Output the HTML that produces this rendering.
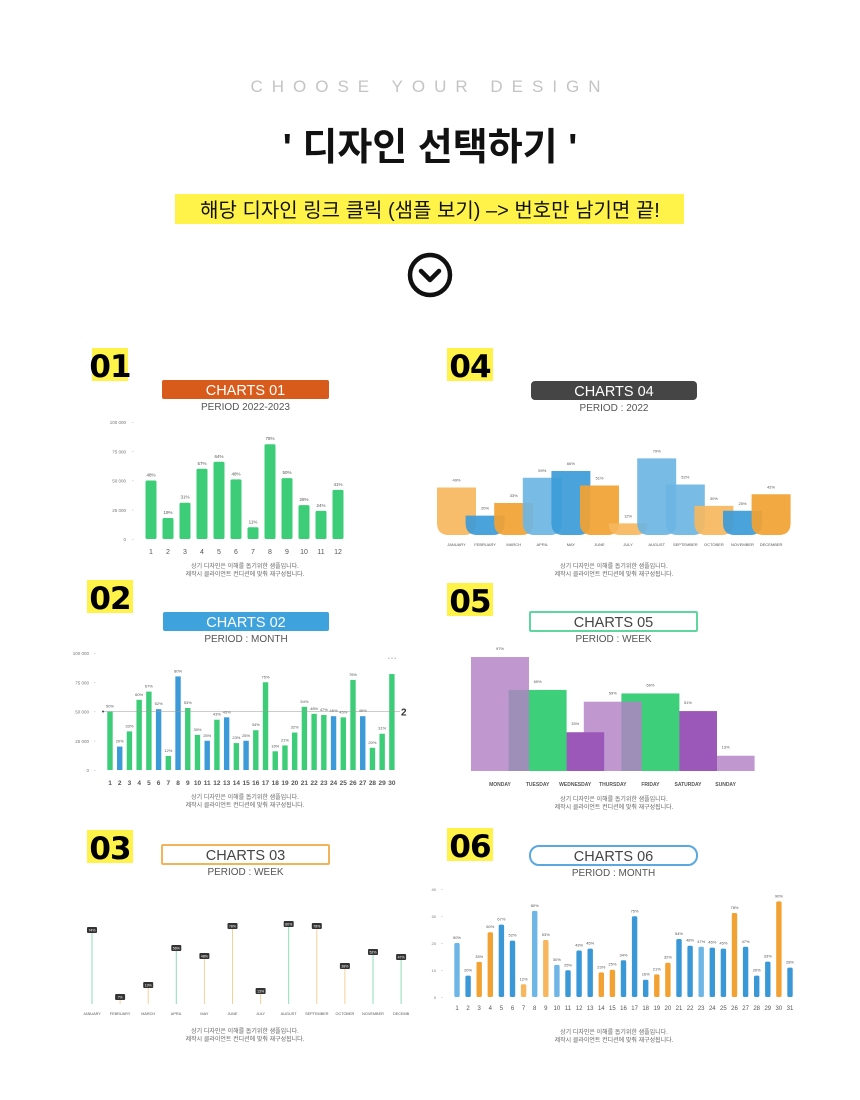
<!DOCTYPE html>
<html><head><meta charset="utf-8">
<style>
html,body{margin:0;padding:0;background:#fff;}
svg{display:block;}
text{font-family:"Liberation Sans","Noto Sans CJK KR",sans-serif;}
.kr{font-family:"Liberation Sans","Noto Sans CJK KR",sans-serif;}
.num{font-family:"DejaVu Sans","Liberation Sans",sans-serif;font-weight:bold;}
</style></head>
<body>
<svg id="page" width="860" height="1100" viewBox="0 0 860 1100" xmlns="http://www.w3.org/2000/svg">
<rect width="860" height="1100" fill="#fff"/>
<text x="430" y="92" text-anchor="middle" font-size="17" fill="#c4c4c4" letter-spacing="9">CHOOSE YOUR DESIGN</text>
<text x="430" y="160" text-anchor="middle" font-size="38" font-weight="bold" fill="#111" class="kr">' 디자인 선택하기 '</text>
<rect x="175" y="194" width="509" height="30" fill="#fff34a"/>
<text x="430" y="217" text-anchor="middle" font-size="20" fill="#111" class="kr">해당 디자인 링크 클릭 (샘플 보기) –&gt; 번호만 남기면 끝!</text>
<g>
<circle cx="430" cy="275" r="20" fill="none" stroke="#111" stroke-width="4.5"/>
<polyline points="421,271 430,280 439,271" fill="none" stroke="#111" stroke-width="4.5" stroke-linecap="round" stroke-linejoin="round"/>
</g>
<g id="charts"></g>
</svg>
<script>
const NS='http://www.w3.org/2000/svg';
const root=document.getElementById('charts');
function mk(parent,tag,attrs,name,txt){
  const el=document.createElementNS(NS,tag);
  for(const k in attrs) el.setAttribute(k,attrs[k]);
  
  
  if(txt!==undefined) el.textContent=txt;
  parent.appendChild(el);
  return el;
}
const FOOT1='상기 디자인은 이해를 돕기위한 샘플입니다.';
const FOOT2='제작시 클라이언트 컨디션에 맞춰 재구성됩니다.';
function header(g,num,bx,by,tx,ty,tw,style,title,sub){
  mk(g,'rect',{x:bx,y:by,width:num==='01'?36:46,height:33,fill:'#fff34a'},'number-badge');
  mk(g,'text',{x:bx+(num==='01'?18:23),y:by+29,'text-anchor':'middle','font-size':31,fill:'#000',class:'num','letter-spacing':'-1'},'number-label',num);
  let fill='none',stroke='none',col='#444',rx=2;
  if(style.fill){fill=style.fill;col='#fff';}
  if(style.stroke){stroke=style.stroke;}
  if(style.rx) rx=style.rx;
  mk(g,'rect',{x:tx,y:ty,width:tw,height:19,fill:fill,stroke:stroke,'stroke-width':2,rx:rx},'title-bar');
  mk(g,'text',{x:tx+tw/2,y:ty+15,'text-anchor':'middle','font-size':14.5,fill:col},'chart-title',title);
  mk(g,'text',{x:tx+tw/2,y:ty+30,'text-anchor':'middle','font-size':10,fill:'#555'},'chart-period',sub);
}
function foot(g,cx,y){
  mk(g,'text',{x:cx,y:y,'text-anchor':'middle','font-size':6,fill:'#666',class:'kr'},'footnote-line-1',FOOT1);
  mk(g,'text',{x:cx,y:y+8,'text-anchor':'middle','font-size':6,fill:'#666',class:'kr'},'footnote-line-2',FOOT2);
}

/* ===== CHART 01 ===== */
const c1Cats=['1','2','3','4','5','6','7','8','9','10','11','12'];
const c1Vals=[50,18,31,60,66,51,10,81,52,29,24,42];
const c1Labels=['48%','19%','31%','57%','64%','48%','11%','78%','50%','28%','24%','41%'];
const c1Ticks=[0,25,50,75,100];
const c1TickLabels=['0','25 000','50 000','75 000','100 000'];
/* ===== CHART 04 ===== */
const c4Cats=['JANUARY','FEBRUARY','MARCH','APRIL','MAY','JUNE','JULY','AUGUST','SEPTEMBER','OCTOBER','NOVEMBER','DECEMBER'];
const c4Vals=[49,20,33,59,66,51,12,79,52,30,25,42];
const c4Labels=['49%','20%','33%','59%','66%','51%','12%','79%','52%','30%','25%','42%'];
const c4Colors=['#f6b75e','#3c9bd8','#f2a232','#6cb5e3','#3c9bd8','#f2a232','#f6b75e','#6cb5e3','#6cb5e3','#f6b75e','#3c9bd8','#f2a232'];
/* ===== CHART 02 ===== */
const c2Cats=[];for(let i=1;i<=30;i++)c2Cats.push(String(i));
const c2Vals=[50,20,33,60,67,52,12,80,53,30,25,43,45,23,25,34,75,16,21,32,54,48,47,46,45,77,46,19,31,82];
const c2Labels=['50%','20%','33%','60%','67%','52%','12%','80%','53%','30%','25%','43%','45%','23%','25%','34%','75%','16%','21%','32%','54%','48%','47%','46%','45%','76%','46%','20%','31%',''];
const c2Blue=[2,6,8,11,13,15,24,27];
const c2Ticks=[0,25,50,75,100];
const c2TickLabels=['0','25 000','50 000','75 000','100 000'];
const c2Ref=50;
/* ===== CHART 05 ===== */
const c5Cats=['MONDAY','TUESDAY','WEDNESDAY','THURSDAY','FRIDAY','SATURDAY','SUNDAY'];
const c5Vals=[97,69,33,59,66,51,13];
const c5Labels=['97%','69%','33%','59%','66%','51%','13%'];
const c5Colors=['#b380c6','#3ecf7a','#9b58b8','#b380c6','#3ecf7a','#9b58b8','#b380c6'];
const c5Light=[true,false,false,true,false,false,true];
/* ===== CHART 03 ===== */
const c3Cats=['JANUARY','FEBRUARY','MARCH','APRIL','MAY','JUNE','JULY','AUGUST','SEPTEMBER','OCTOBER','NOVEMBER','DECEMB'];
const c3Vals=[74,7,19,56,48,78,13,80,78,38,52,47];
const c3Labels=['74%','7%','19%','56%','48%','78%','13%','80%','78%','38%','52%','47%'];
const c3Colors=['#8fdcb5','#f5cf9a','#f5cf9a','#8fdcb5','#f5cf9a','#f5cf9a','#f5cf9a','#8fdcb5','#f5cf9a','#f5cf9a','#8fdcb5','#8fdcb5'];
/* ===== CHART 06 ===== */
const c6Cats=[];for(let i=1;i<=31;i++)c6Cats.push(String(i));
const c6Vals=[20,7.9,13,24,26.8,20.9,4.7,31.9,21.1,11.9,9.9,17.2,17.9,9.1,10.1,13.6,29.9,6.4,8.4,12.7,21.5,19,18.6,18.3,17.9,31.1,18.6,7.9,13.1,35.4,10.9];
const c6Labels=['50%','20%','33%','60%','67%','52%','12%','80%','53%','30%','25%','43%','45%','23%','25%','34%','75%','16%','21%','32%','54%','48%','47%','46%','45%','78%','47%','20%','33%','90%','28%'];
const c6Kind=['lb','b','o','o','b','b','lo','lb','lo','lb','b','b','b','o','o','b','b','b','o','o','b','b','lb','b','b','o','b','b','b','o','b'];
const c6Ticks=[0,10,20,30,40];
const c6TickLabels=['0','10','20','30','40'];

/* draw chart 01 */
(function(){
  const g=mk(root,'g',{},'chart-01');
  header(g,'01',92,348,162,380,167,{fill:'#d95b1b'},'CHARTS 01','PERIOD 2022-2023');
  const y=v=>539-v*1.17, x=i=>151+i*17;
  c1Ticks.forEach((t,i)=>{
    mk(g,'text',{x:126,y:y(t)+2,'text-anchor':'end','font-size':4.5,fill:'#777'},'y-tick-label',c1TickLabels[i]);
    mk(g,'rect',{x:132,y:y(t),width:1.5,height:0.6,fill:'#bbb'},'y-tick-mark');
  });
  c1Vals.forEach((v,i)=>{
    mk(g,'rect',{x:x(i)-5.5,y:y(v),width:11,height:539-y(v),rx:1.5,fill:'#3dcd78'},'bar-'+c1Cats[i]);
    mk(g,'text',{x:x(i),y:y(v)-4,'text-anchor':'middle','font-size':4.5,fill:'#555'},'value-label',c1Labels[i]);
    mk(g,'text',{x:x(i),y:554,'text-anchor':'middle','font-size':7,fill:'#555'},'x-tick-label',c1Cats[i]);
  });
  foot(g,245,568);
})();

/* draw chart 04 */
(function(){
  const g=mk(root,'g',{},'chart-04');
  header(g,'04',447,348,531,381,166,{fill:'#454545',rx:4},'CHARTS 04','PERIOD : 2022');
  const base=535, y=v=>base-v*0.97, x=i=>437+i*28.6, w=39;
  c4Vals.forEach((v,i)=>{
    const h=base-y(v), r=Math.min(12,h);
    const x0=x(i), y0=y(v);
    const d='M'+x0+','+y0+' H'+(x0+w)+' V'+(base-r)+' Q'+(x0+w)+','+base+' '+(x0+w-r)+','+base+' H'+(x0+r)+' Q'+x0+','+base+' '+x0+','+(base-r)+' Z';
    mk(g,'path',{d:d,fill:c4Colors[i],opacity:0.92},'bar-'+c4Cats[i].toLowerCase());
    mk(g,'text',{x:x0+w/2,y:y0-6,'text-anchor':'middle','font-size':4,fill:'#555'},'value-label',c4Labels[i]);
    mk(g,'text',{x:x0+w/2,y:546,'text-anchor':'middle','font-size':4,fill:'#555'},'x-tick-label',c4Cats[i]);
  });
  foot(g,614,568);
})();

/* draw chart 02 */
(function(){
  const g=mk(root,'g',{},'chart-02');
  header(g,'02',87,580,163,612,166,{fill:'#3ea2dd'},'CHARTS 02','PERIOD : MONTH');
  const y=v=>770-v*1.17, x=i=>110+i*9.72;
  c2Ticks.forEach((t,i)=>{
    mk(g,'text',{x:89,y:y(t)+2,'text-anchor':'end','font-size':4.5,fill:'#777'},'y-tick-label',c2TickLabels[i]);
    mk(g,'rect',{x:94,y:y(t),width:1.5,height:0.6,fill:'#bbb'},'y-tick-mark');
  });
  c2Vals.forEach((v,i)=>{
    const blue=c2Blue.indexOf(i+1)>=0;
    mk(g,'rect',{x:x(i)-2.7,y:y(v),width:5.4,height:770-y(v),fill:blue?'#3c9ad8':'#3dcd78'},'bar-'+c2Cats[i]);
    if(c2Labels[i]) mk(g,'text',{x:x(i),y:y(v)-4,'text-anchor':'middle','font-size':4,fill:'#555'},'value-label',c2Labels[i]);
    mk(g,'text',{x:x(i),y:785,'text-anchor':'middle','font-size':6.5,'font-weight':'bold',fill:'#555'},'x-tick-label',c2Cats[i]);
  });
  mk(g,'line',{x1:103,y1:y(c2Ref),x2:400,y2:y(c2Ref),stroke:'#999','stroke-width':0.6},'reference-line');
  mk(g,'circle',{cx:103,cy:y(c2Ref),r:1,fill:'#444'},'reference-dot');
  mk(g,'text',{x:401,y:y(c2Ref)+4,'font-size':10,'font-weight':'bold',fill:'#333'},'reference-label','2');
  mk(g,'text',{x:392,y:660,'text-anchor':'middle','font-size':5,fill:'#aaa'},'more-indicator','• • •');
  foot(g,245,799);
})();

/* draw chart 05 */
(function(){
  const g=mk(root,'g',{},'chart-05');
  header(g,'05',447,583,530,612,167,{stroke:'#5fd6a0',rx:1},'CHARTS 05','PERIOD : WEEK');
  const base=771, y=v=>base-v*1.175, x=i=>471+i*37.6, w=58;
  for(let i=c5Vals.length-1;i>=0;i--){
    const v=c5Vals[i];
    mk(g,'rect',{x:x(i),y:y(v),width:w,height:base-y(v),fill:c5Colors[i],opacity:c5Light[i]?0.82:1},'bar-'+c5Cats[i].toLowerCase());
  }
  c5Vals.forEach((v,i)=>{
    mk(g,'text',{x:x(i)+w/2,y:y(v)-7,'text-anchor':'middle','font-size':4,fill:'#555'},'value-label',c5Labels[i]);
    mk(g,'text',{x:x(i)+29,y:786,'text-anchor':'middle','font-size':5,'font-weight':'bold',fill:'#555'},'x-tick-label',c5Cats[i]);
  });
  foot(g,614,801);
})();

/* draw chart 03 */
(function(){
  const g=mk(root,'g',{},'chart-03');
  header(g,'03',87,830,162,845,167,{stroke:'#f2b45a',rx:1},'CHARTS 03','PERIOD : WEEK');
  const base=1004, y=v=>base-v*1.0, x=i=>92+i*28.1;
  c3Vals.forEach((v,i)=>{
    mk(g,'line',{x1:x(i),y1:y(v),x2:x(i),y2:base,stroke:c3Colors[i],'stroke-width':1},'stem-'+c3Cats[i].toLowerCase());
    mk(g,'rect',{x:x(i)-5,y:y(v)-3,width:10,height:6,rx:1,fill:'#333'},'value-badge');
    mk(g,'text',{x:x(i),y:y(v)+1.5,'text-anchor':'middle','font-size':3.5,fill:'#fff'},'value-label',c3Labels[i]);
    mk(g,'text',{x:x(i),y:1015,'text-anchor':'middle','font-size':3.8,fill:'#555'},'x-tick-label',c3Cats[i]);
  });
  foot(g,245,1033);
})();

/* draw chart 06 */
(function(){
  const g=mk(root,'g',{},'chart-06');
  header(g,'06',447,828,530,846,167,{stroke:'#5aa8e0',rx:9},'CHARTS 06','PERIOD : MONTH');
  const base=997, y=v=>base-v*2.7, x=i=>457+i*11.1;
  const col={lb:'#6db6e5',b:'#3a98d6',o:'#f2a232',lo:'#f6b75e'};
  c6Ticks.forEach((t,i)=>{
    mk(g,'text',{x:436,y:y(t)+2,'text-anchor':'end','font-size':4,fill:'#777'},'y-tick-label',c6TickLabels[i]);
    mk(g,'rect',{x:441,y:y(t),width:1.5,height:0.6,fill:'#bbb'},'y-tick-mark');
  });
  c6Vals.forEach((v,i)=>{
    mk(g,'rect',{x:x(i)-2.7,y:y(v),width:5.4,height:base-y(v),rx:1.5,fill:col[c6Kind[i]]},'bar-'+c6Cats[i]);
    mk(g,'text',{x:x(i),y:y(v)-4,'text-anchor':'middle','font-size':4,fill:'#555'},'value-label',c6Labels[i]);
    mk(g,'text',{x:x(i),y:1010,'text-anchor':'middle','font-size':6,fill:'#555'},'x-tick-label',c6Cats[i]);
  });
  foot(g,614,1034);
})();
</script>
</body></html>
